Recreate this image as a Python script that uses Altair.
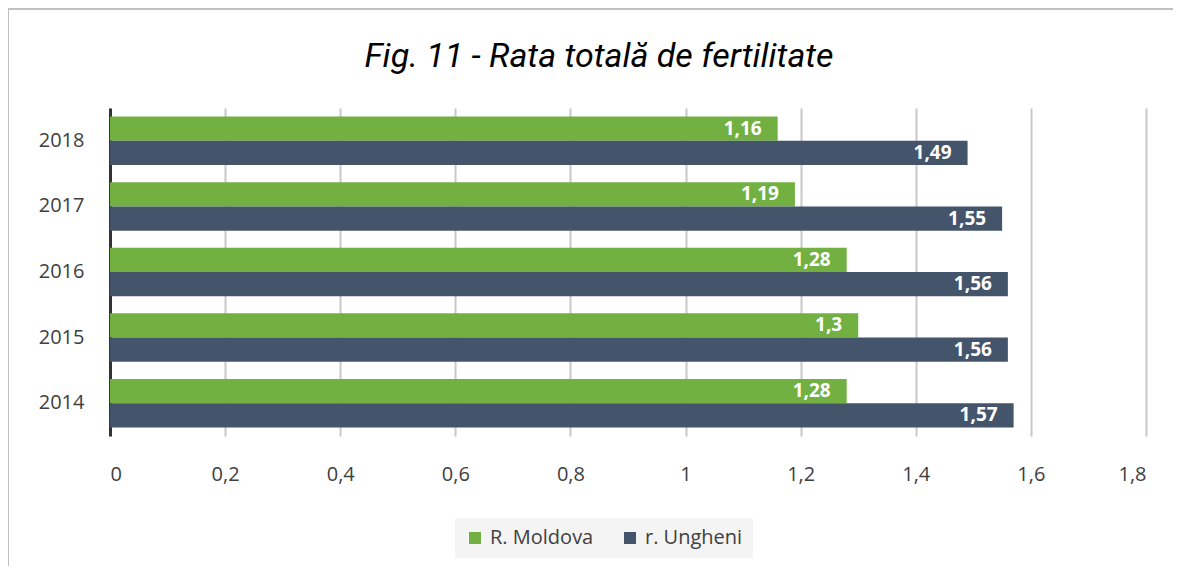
import altair as alt
import pandas as pd

years = ["2018", "2017", "2016", "2015", "2014"]
moldova = [1.16, 1.19, 1.28, 1.30, 1.28]
ungheni = [1.49, 1.55, 1.56, 1.56, 1.57]
series = ["R. Moldova", "r. Ungheni"]
colors = ["#72b042", "#44546a"]
ticks = [0, 0.2, 0.4, 0.6, 0.8, 1.0, 1.2, 1.4, 1.6, 1.8]

rows = []
for i, y in enumerate(years):
    rows.append({"year": y, "series": series[0], "value": moldova[i]})
    rows.append({"year": y, "series": series[1], "value": ungheni[i]})
df = pd.DataFrame(rows)

base = alt.Chart(df)

yenc = alt.Y("year:N", sort=years,
             scale=alt.Scale(paddingInner=0.26, paddingOuter=0.13),
             axis=alt.Axis(title=None, ticks=False, domainColor="#333333", domainWidth=3,
                           labelFontSize=20, labelColor="#404040", labelPadding=26,
                           labelFont="Open Sans", grid=False))
xenc = alt.X("value:Q", scale=alt.Scale(domain=[0, 1.8], nice=False),
             axis=alt.Axis(title=None, values=ticks, ticks=False, domain=False,
                           labelFontSize=20, labelColor="#404040", labelPadding=28,
                           labelFont="Open Sans", grid=True, gridColor="#c8c8c8",
                           gridWidth=2, format="~g"))

bars = base.mark_bar().encode(
    y=yenc,
    x=xenc,
    yOffset=alt.YOffset("series:N", sort=series, scale=alt.Scale(paddingInner=0, paddingOuter=0)),
    color=alt.Color("series:N", sort=series,
                    scale=alt.Scale(domain=series, range=colors),
                    legend=alt.Legend(title=None, orient="none", legendX=345, legendY=410,
                                      direction="horizontal", symbolType="square",
                                      symbolSize=144, labelFontSize=20, labelColor="#404040",
                                      labelFont="Open Sans", fillColor="#f4f4f4",
                                      padding=10, columnPadding=26, labelOffset=5,
                                      symbolStrokeWidth=0)),
)

labels = base.mark_text(align="right", baseline="middle", dx=-16, color="white",
                        fontWeight="bold", fontSize=19, font="Open Sans").encode(
    y=alt.Y("year:N", sort=years),
    x="value:Q",
    yOffset=alt.YOffset("series:N", sort=series),
    text=alt.Text("value:Q", format=".2~f"),
)

frame_top = alt.Chart(pd.DataFrame({"a": [0]})).mark_rule(color="#c0c0c0", strokeWidth=2).encode(
    x=alt.value(-102), x2=alt.value(1071), y=alt.value(-99))
frame_left = alt.Chart(pd.DataFrame({"a": [0]})).mark_rule(color="#c0c0c0", strokeWidth=2).encode(
    x=alt.value(-102), y=alt.value(-99), y2=alt.value(460))

chart = alt.layer(frame_top, frame_left, bars, labels).properties(
    width=1036, height=328,
    autosize="none",
    padding={"left": 102, "top": 100, "right": 27, "bottom": 130},
    title=alt.Title("Fig. 11 - Rata totală de fertilitate", font="Roboto",
                    fontStyle="italic", fontWeight="normal", fontSize=34, color="#000000",
                    anchor="middle", frame="group", dx=-29, offset=-66),
    background="white",
).configure(
    locale={"number": {"decimal": ",", "thousands": ".", "grouping": [3], "currency": ["", " lei"]}}
).configure_view(stroke=None)

chart.save("out.html", embed_options={"renderer": "svg", "actions": False})
